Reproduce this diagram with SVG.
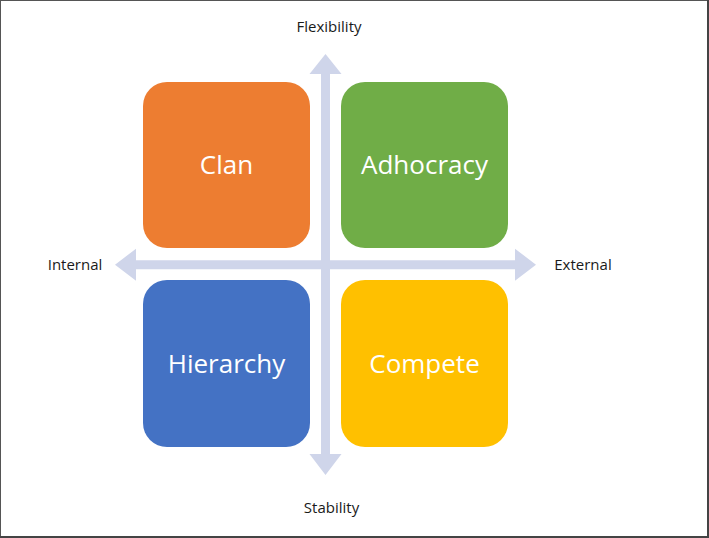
<svg xmlns="http://www.w3.org/2000/svg" width="709" height="538" viewBox="0 0 709 538">
<style>
.box{stroke:none}
.big{font-family:"Open Sans","Noto Sans",sans-serif;font-size:26px;fill:#ffffff;text-anchor:middle}
.lbl{font-family:"Open Sans","Noto Sans",sans-serif;font-size:15px;fill:#1a1a1a;text-anchor:middle}
.axis{fill:#cfd5ea}
</style>
<rect x="0" y="0" width="709" height="538" fill="#ffffff"/>
<rect x="0.5" y="0.5" width="707" height="536" fill="none" stroke="#555555" stroke-width="1"/>
<line x1="708" y1="0" x2="708" y2="538" stroke="#444444" stroke-width="2"/>
<line x1="0" y1="537" x2="709" y2="537" stroke="#444444" stroke-width="2"/>
<g id="connectors">
<path class="axis" d="M321,74 L309.5,74 L325.5,54 L341.5,74 L330,74 L330,454 L341.5,454 L325.5,475 L309.5,454 L321,454 Z"/>
<path class="axis" d="M136,260.2 L136,248.7 L115,264.7 L136,280.7 L136,269.2 L515,269.2 L515,280.7 L536,264.7 L515,248.7 L515,260.2 Z"/>
</g>
<g id="clan">
<rect class="box" x="143" y="82" width="167" height="166" rx="24" fill="#ed7d31"/>
<text class="big" x="226.5" y="174">Clan</text>
</g>
<g id="adhocracy">
<rect class="box" x="341" y="82" width="167" height="166" rx="24" fill="#70ad47"/>
<text class="big" x="424.5" y="174">Adhocracy</text>
</g>
<g id="hierarchy">
<rect class="box" x="143" y="280" width="167" height="167" rx="24" fill="#4472c4"/>
<text class="big" x="226.5" y="372.5">Hierarchy</text>
</g>
<g id="compete">
<rect class="box" x="341" y="280" width="167" height="167" rx="24" fill="#ffc000"/>
<text class="big" x="424.5" y="372.5">Compete</text>
</g>
<g id="flexibility"><text class="lbl" x="329" y="31.5">Flexibility</text></g>
<g id="internal"><text class="lbl" x="75" y="269.5">Internal</text></g>
<g id="external"><text class="lbl" x="583" y="270">External</text></g>
<g id="stability"><text class="lbl" x="331.5" y="513">Stability</text></g>
</svg>
